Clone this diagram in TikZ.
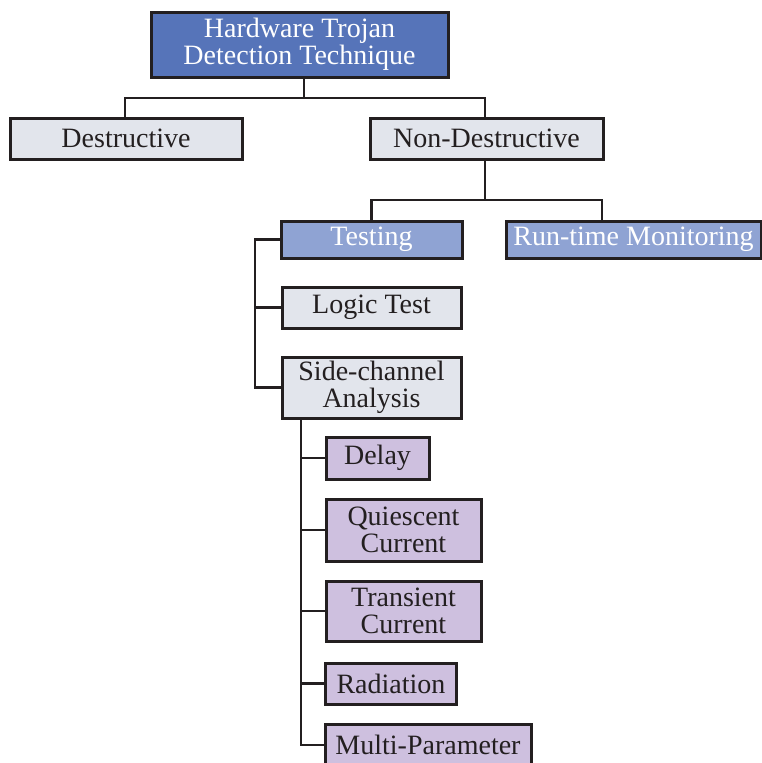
\documentclass[tikz,border=0pt]{standalone}
\usepackage{fontspec}
\setmainfont{Liberation Serif}
\definecolor{inkline}{HTML}{231F20}
\definecolor{rootblue}{RGB}{86,116,185}
\definecolor{midblue}{RGB}{143,163,211}
\definecolor{paleblue}{RGB}{226,229,236}
\definecolor{lavender}{RGB}{206,192,223}
\begin{document}
\begin{tikzpicture}[x=1pt,y=-1pt,
  box/.style={draw=inkline, line width=3pt, rectangle, inner sep=0pt,
    align=center, font=\fontsize{28}{26.5}\selectfont, text=inkline},
  rootbox/.style={box, fill=rootblue, text=white},
  bluebox/.style={box, fill=midblue, text=white},
  graybox/.style={box, fill=paleblue},
  leafbox/.style={box, fill=lavender},
  link/.style={draw=inkline, line width=2.8pt}]
\useasboundingbox (0,0) rectangle (762,763);
\clip (0,0) rectangle (762,763);

% junction points and vertical bars of the tree
\coordinate (rootjoin) at (304,98);
\coordinate (ndjoin) at (485,200);
\coordinate (tbar) at (255,0);
\coordinate (sbar) at (301,0);

% top level
\node[rootbox, minimum width=297pt, minimum height=65pt] (root) at (299.5,44.5)
  {Hardware Trojan\\Detection Technique};
\node[graybox, minimum width=232pt, minimum height=41pt] (destr) at (126,138.5) {Destructive};
\node[graybox, minimum width=233pt, minimum height=41pt] (nondest) at (486.5,138.5) {Non-Destructive};

% non-destructive branch
\node[bluebox, minimum width=181pt, minimum height=37pt] (testing) at (371.5,239.5) {Testing};
\node[bluebox, minimum width=255pt, minimum height=37pt] (rtm) at (633.5,239.5) {Run-time Monitoring};

% testing branch
\node[graybox, minimum width=179pt, minimum height=41pt] (logic) at (371.5,307.5) {Logic Test};
\node[graybox, minimum width=179pt, minimum height=61pt] (sca) at (371.5,387.5) {Side-channel\\Analysis};

% side-channel parameters
\node[leafbox, minimum width=103pt, minimum height=42pt] (delay) at (377.5,458) {Delay};
\node[leafbox, minimum width=155pt, minimum height=62pt] (quiescent) at (403.5,530) {Quiescent\\Current};
\node[leafbox, minimum width=155pt, minimum height=60pt] (transient) at (403.5,611) {Transient\\Current};
\node[leafbox, minimum width=131pt, minimum height=41pt] (radiation) at (391,683.5) {Radiation};
\node[leafbox, minimum width=206pt, minimum height=42pt] (multi) at (428,745) {Multi-Parameter};

% tree connectors
\draw[link] (rootjoin |- root.south) -- (rootjoin);
\draw[link] (destr.north -| 125,0) |- (rootjoin) -| (nondest.north -| 485,0);

\draw[link] (nondest.south -| ndjoin) -- (ndjoin);
\draw[link] (testing.north) |- (ndjoin) -| ([xshift=-31.5pt]rtm.north);

\draw[link] (testing.west) -| (tbar |- sca.west) -- (sca.west);
\draw[link] (logic.west -| tbar) -- (logic.west);

\draw[link] (sca.south -| sbar) |- (multi.west);
\foreach \leaf in {delay,quiescent,transient,radiation}
  \draw[link] (\leaf.west -| sbar) -- (\leaf.west);
\end{tikzpicture}
\end{document}
